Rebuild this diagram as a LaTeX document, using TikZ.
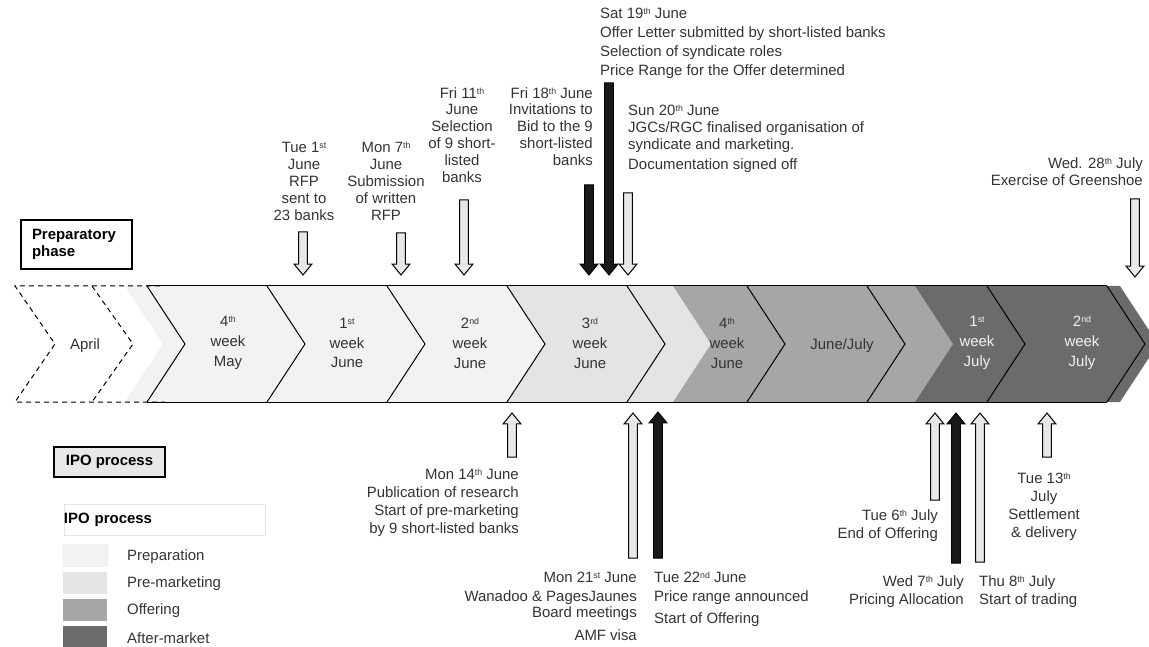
\documentclass[tikz,border=0pt]{standalone}
\usepackage{fontspec}
\setmainfont{Liberation Sans}
\usetikzlibrary{calc}

\definecolor{prepgray}{HTML}{F2F2F2}
\definecolor{premgray}{HTML}{E4E4E4}
\definecolor{offgray}{HTML}{A6A6A6}
\definecolor{aftgray}{HTML}{6B6B6B}
\definecolor{arrowgray}{HTML}{E8E8E8}
\definecolor{arrowblack}{HTML}{1A1A1A}
\definecolor{labelgray}{HTML}{333333}

% small raised ordinal
\newcommand{\sps}[1]{\raisebox{4bp}{\fontsize{8.8}{8.8}\selectfont #1}}

% block arrow from a tail point to a tip point (vertical)
\newcommand{\blockarrow}[3]{%
  \filldraw[#1] let \p1 = (#2), \p2 = (#3), \n1 = {ifthenelse(\y2>\y1,1,-1)} in
    ({\x1-4.5pt},\y1) -- ({\x1-4.5pt},{\y2-\n1*11pt}) -- ({\x1-9pt},{\y2-\n1*11pt})
    -- (\x1,\y2) -- ({\x1+9pt},{\y2-\n1*11pt}) -- ({\x1+4.5pt},{\y2-\n1*11pt})
    -- ({\x1+4.5pt},\y1) -- cycle;}

\tikzset{
  datelabel/.style = {font=\fontsize{15}{17}\selectfont, text=labelgray, inner sep=0pt},
  weeklabel/.style = {font=\fontsize{15}{20}\selectfont, text=labelgray, align=center, inner sep=0pt},
  lightarrow/.style = {fill=arrowgray, draw=black, line width=1bp},
  darkarrow/.style = {fill=arrowblack, draw=black, line width=1bp},
  phasebox/.style = {draw, line width=1.5bp, font=\fontsize{15}{17}\selectfont\bfseries, align=left, inner sep=0pt},
  swatch/.style = {minimum width=44bp, minimum height=22bp, inner sep=0pt},
}

\begin{document}
\begin{tikzpicture}[x=1bp, y=-1bp]
    \useasboundingbox (0,0) rectangle (1149,647);
    % Phase colours behind the chevrons
    \fill[prepgray] (125,286) -- (507,286) -- (545,344) -- (507,402) -- (125,402) -- (163,344) -- cycle;
    \fill[premgray] (507,286) -- (673,286) -- (711,344) -- (673,402) -- (507,402) -- (545,344) -- cycle;
    \fill[offgray] (673,286) -- (915,286) -- (953,344) -- (915,402) -- (673,402) -- (711,344) -- cycle;
    \fill[aftgray] (915,286) -- (1120,286) -- (1158,344) -- (1120,402) -- (915,402) -- (953,344) -- cycle;
    % Draw the chevrons
    \draw[line width=1bp] (147,286) -- (1107,286);
    \draw[line width=1bp] (147,402) -- (1107,402);
    \foreach \i in {0,...,8}
      \draw[line width=1bp] (147+120*\i,286) -- (185+120*\i,344) -- (147+120*\i,402);
    % April is only dashed
    \draw[line width=1bp, dash pattern=on 5bp off 4bp] (160,286) -- (15,286) -- (55,344) -- (15,402) -- (165,402);
    \draw[line width=1bp, dash pattern=on 5bp off 4bp] (92,286) -- (133,344) -- (92,402);

    % Week labels
    \node[weeklabel] (april) at (85,346) {April};
    \node[weeklabel] (mayW4) at (228,343) {4\sps{th}\\week\\May};
    \node[weeklabel] (juneW1) at (347,343) {1\sps{st}\\week\\June};
    \node[weeklabel] (juneW2) at (470,343) {2\sps{nd}\\week\\June};
    \node[weeklabel] (juneW3) at (590,343) {3\sps{rd}\\week\\June};
    \node[weeklabel] (juneW4) at (727,343) {4\sps{th}\\week\\June};
    \node[weeklabel] (juneJuly) at (842,346) {June/July};
    \node[weeklabel, text=prepgray] (julyW1) at (977,343) {1\sps{st}\\week\\July};
    \node[weeklabel, text=prepgray] (julyW2) at (1082,343) {2\sps{nd}\\week\\July};

    % Phase boxes
    \node[phasebox, fill=white, minimum width=111bp, minimum height=49bp, text width=89bp] (prepPhase) at (76.5,244.5) {Preparatory\\phase};
    \node[phasebox, fill=arrowgray, minimum width=111bp, minimum height=30bp] (ipoPhase) at (109.5,462) {IPO process};

    % Events above the timeline
    \node[datelabel, align=center, anchor=north] (rfpText) at (304,142) {Tue 1\sps{st}\\June\\RFP\\sent to\\23 banks};
    \node[datelabel, align=center, anchor=north] (writtenText) at (386,142) {Mon 7\sps{th}\\June\\Submission\\of written\\RFP};
    \node[datelabel, align=center, anchor=north] (selectText) at (462,87) {Fri 11\sps{th}\\June\\Selection\\of 9 short-\\listed\\banks};
    \node[datelabel, align=right, anchor=north east] (invitText) at (593,87) {Fri 18\sps{th} June\\Invitations to\\Bid to the 9\\short-listed\\banks};
    \node[datelabel, font=\fontsize{15}{19}\selectfont, align=left, anchor=north west] (offerText) at (600,8) {Sat 19\sps{th} June\\Offer Letter submitted by short-listed banks\\Selection of syndicate roles\\Price Range for the Offer determined};
    \node[datelabel, align=left, anchor=north west] (jgcText) at (628,105) {Sun 20\sps{th} June\\JGCs/RGC finalised organisation of\\syndicate and marketing.\\[3bp]Documentation signed off};
    \node[datelabel, font=\fontsize{15}{18}\selectfont, align=right, anchor=north east] (shoeText) at (1143,157) {Wed. 28\sps{th} July\\Exercise of Greenshoe};

    \coordinate (rfpTop) at (303,232);       \coordinate (rfpTip) at (303,275);
    \coordinate (writtenTop) at (401,233);   \coordinate (writtenTip) at (401,275);
    \coordinate (selectTop) at (464,200);    \coordinate (selectTip) at (464,275);
    \coordinate (invitTop) at (589,185);     \coordinate (invitTip) at (589,275);
    \coordinate (offerTop) at (609,83);      \coordinate (offerTip) at (609,275);
    \coordinate (jgcTop) at (628,193);       \coordinate (jgcTip) at (628,275);
    \coordinate (shoeTop) at (1135,199);     \coordinate (shoeTip) at (1135,277);
    \blockarrow{lightarrow}{rfpTop}{rfpTip}
    \blockarrow{lightarrow}{writtenTop}{writtenTip}
    \blockarrow{lightarrow}{selectTop}{selectTip}
    \blockarrow{darkarrow}{invitTop}{invitTip}
    \blockarrow{darkarrow}{offerTop}{offerTip}
    \blockarrow{lightarrow}{jgcTop}{jgcTip}
    \blockarrow{lightarrow}{shoeTop}{shoeTip}

    % Events below the timeline
    \node[datelabel, font=\fontsize{15}{18}\selectfont, align=right, anchor=north east] (researchText) at (519,469) {Mon 14\sps{th} June\\Publication of research\\Start of pre-marketing\\by 9 short-listed banks};
    \node[datelabel, font=\fontsize{15}{16}\selectfont, align=right, anchor=north east] (boardText) at (637,572) {Mon 21\sps{st} June\\[3bp]Wanadoo \& PagesJaunes\\Board meetings\\[7bp]AMF visa};
    \node[datelabel, font=\fontsize{15}{16}\selectfont, align=left, anchor=north west] (rangeText) at (654,572) {Tue 22\sps{nd} June\\[3bp]Price range announced\\[6bp]Start of Offering};
    \node[datelabel, font=\fontsize{15}{19}\selectfont, align=right, anchor=north east] (endText) at (938,509) {Tue 6\sps{th} July\\End of Offering};
    \node[datelabel, font=\fontsize{15}{19}\selectfont, align=right, anchor=north east] (pricingText) at (964,575) {Wed 7\sps{th} July\\Pricing Allocation};
    \node[datelabel, font=\fontsize{15}{19}\selectfont, align=left, anchor=north west] (tradingText) at (979,575) {Thu 8\sps{th} July\\Start of trading};
    \node[datelabel, font=\fontsize{15}{18}\selectfont, align=center, anchor=north] (settleText) at (1044,473) {Tue 13\sps{th}\\July\\Settlement\\\& delivery};

    \coordinate (researchTail) at (512,457); \coordinate (researchTip) at (512,413);
    \coordinate (boardTail) at (633,558);    \coordinate (boardTip) at (633,413);
    \coordinate (rangeTail) at (658,558);    \coordinate (rangeTip) at (658,412);
    \coordinate (endTail) at (935,500);      \coordinate (endTip) at (935,413);
    \coordinate (pricingTail) at (956,563);  \coordinate (pricingTip) at (956,413);
    \coordinate (tradingTail) at (980,562);  \coordinate (tradingTip) at (980,413);
    \coordinate (settleTail) at (1047,457);  \coordinate (settleTip) at (1047,413);
    \blockarrow{lightarrow}{researchTail}{researchTip}
    \blockarrow{lightarrow}{boardTail}{boardTip}
    \blockarrow{darkarrow}{rangeTail}{rangeTip}
    \blockarrow{lightarrow}{endTail}{endTip}
    \blockarrow{darkarrow}{pricingTail}{pricingTip}
    \blockarrow{lightarrow}{tradingTail}{tradingTip}
    \blockarrow{lightarrow}{settleTail}{settleTip}

    % Legend
    \node[fill=white, draw=black!10, minimum width=201bp, minimum height=31bp, text width=201bp, align=left, inner sep=0pt, font=\fontsize{15}{17}\selectfont\bfseries] (legendTitle) at (164.5,519.5) {IPO process};
    \node[swatch, fill=prepgray, draw=black!6] (prepSw) at (85,555.5) {};
    \node[swatch, fill=premgray] (premSw) at (85,583) {};
    \node[swatch, fill=offgray] (offSw) at (85,610) {};
    \node[swatch, fill=aftgray] (aftSw) at (85,637) {};
    \node[datelabel, anchor=west] (prepName) at (127,557) {Preparation};
    \node[datelabel, anchor=west] (premName) at (127,584) {Pre-marketing};
    \node[datelabel, anchor=west] (offName) at (127,611) {Offering};
    \node[datelabel, anchor=west] (aftName) at (127,638) {After-market};
\end{tikzpicture}
\end{document}
